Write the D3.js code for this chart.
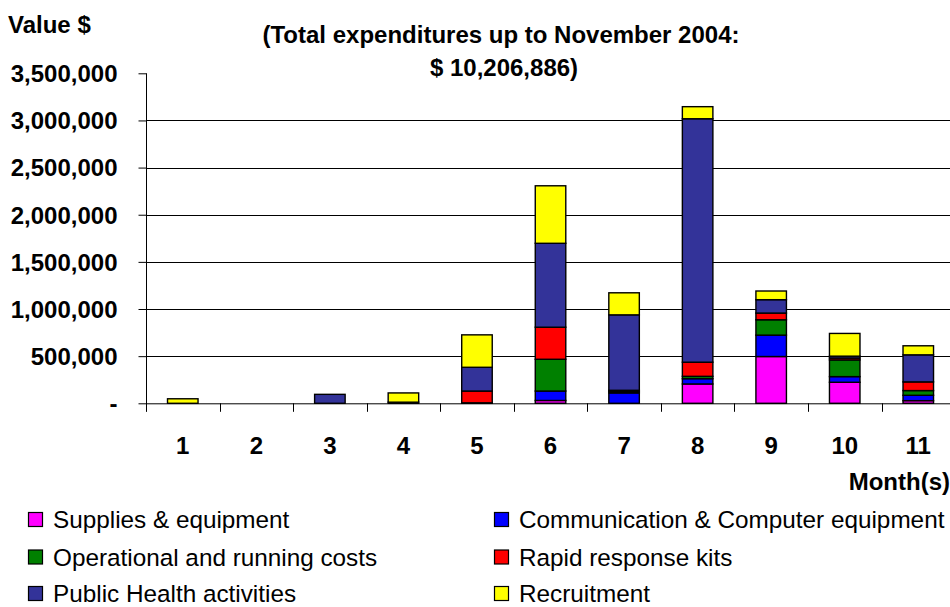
<!DOCTYPE html>
<html>
<head>
<meta charset="utf-8">
<script src="https://cdn.jsdelivr.net/npm/d3@7"></script>
<style>
  html, body { margin: 0; padding: 0; background: #fff; }
  svg { display: block; }
  text { font-family: "Liberation Sans", Arial, sans-serif; fill: #000; }
</style>
</head>
<body>
<svg id="chart" width="950" height="607"></svg>
<script>
// ---- Data ----
const months = ["1", "2", "3", "4", "5", "6", "7", "8", "9", "10", "11"];
const seriesNames = [
  "Supplies & equipment",
  "Communication & Computer equipment",
  "Operational and running costs",
  "Rapid response kits",
  "Public Health activities",
  "Recruitment"
];
const supplies      = [0, 0, 0, 0, 0, 30000, 0, 205000, 496000, 223000, 28000];
const communication = [0, 0, 0, 0, 0, 100000, 110000, 56000, 227000, 60000, 57000];
const operational   = [0, 0, 0, 0, 5000, 337000, 14000, 25000, 163000, 177000, 50000];
const rapidKits     = [0, 0, 0, 0, 125000, 340000, 14000, 150000, 71000, 20000, 92000];
const publicHealth  = [0, 0, 95000, 12000, 252000, 890000, 800000, 2582000, 142000, 20000, 287000];
const recruitment   = [48000, 0, 0, 98000, 344000, 610000, 234000, 128000, 92000, 241000, 96000];
const yTicks = [0, 500000, 1000000, 1500000, 2000000, 2500000, 3000000, 3500000];
const colors = ["#FF00FF", "#0000FF", "#008000", "#FF0000", "#333399", "#FFFF00"];

const seriesValues = [supplies, communication, operational, rapidKits, publicHealth, recruitment];
const table = months.map((m, i) => {
  const row = { month: m };
  seriesNames.forEach((s, j) => { row[s] = seriesValues[j][i]; });
  return row;
});

// ---- Layout ----
const svg = d3.select("#chart");
const plotLeft = 146, plotRight = 955.05, plotTop = 73.3, plotBottom = 403.3;
const FS = 24;
const LFS = 24.3;

const x = d3.scaleBand().domain(months).range([plotLeft, plotRight]).padding(0);
const y = d3.scaleLinear().domain([0, 3500000]).range([plotBottom, plotTop]);
const barW = x.bandwidth() * 0.415;

// gridlines
svg.append("g").selectAll("line")
  .data(yTicks.filter(v => v > 0 && v < 3500000))
  .join("line")
  .attr("x1", plotLeft).attr("x2", 950)
  .attr("y1", d => Math.round(y(d)) + 0.5).attr("y2", d => Math.round(y(d)) + 0.5)
  .attr("stroke", "#000").attr("stroke-width", 1);

// stacked bars
const stack = d3.stack().keys(seriesNames);
const stacked = stack(table);
svg.append("g").selectAll("g")
  .data(stacked)
  .join("g")
  .attr("fill", (d, i) => colors[i])
  .selectAll("rect")
  .data(d => d.filter(p => p[1] - p[0] > 0))
  .join("rect")
  .attr("x", d => x(d.data.month) + (x.bandwidth() - barW) / 2)
  .attr("width", barW)
  .attr("y", d => y(d[1]))
  .attr("height", d => y(d[0]) - y(d[1]))
  .attr("stroke", "#000")
  .attr("stroke-width", 1.4);

// y axis
const yAxis = d3.axisLeft(y).tickValues(yTicks)
  .tickFormat(d => d === 0 ? "-" : d3.format(",")(d))
  .tickSize(8).tickPadding(21);
const yg = svg.append("g").attr("transform", `translate(${plotLeft + 0.5},0)`).call(yAxis);
yg.select(".domain").remove();
yg.append("line").attr("x1", 0).attr("x2", 0)
  .attr("y1", plotTop).attr("y2", plotBottom + 8)
  .attr("stroke", "#000").attr("stroke-width", 1);
yg.selectAll(".tick line").attr("stroke", "#000");
yg.selectAll(".tick text")
  .style("font-size", FS + "px").style("font-weight", "bold")
  .attr("dy", "0.35em");

// x axis
const xAxis = d3.axisBottom(x).tickSize(0).tickPadding(33);
const xg = svg.append("g").attr("transform", `translate(0,${plotBottom})`).call(xAxis);
xg.select(".domain").remove();
xg.append("line").attr("x1", plotLeft).attr("x2", 950)
  .attr("y1", 0.5).attr("y2", 0.5).attr("stroke", "#000");
xg.selectAll(".tick text")
  .style("font-size", FS + "px").style("font-weight", "bold")
  .attr("dy", "0.35em").attr("y", 42);
// category separators (tick marks between bands)
xg.append("g").selectAll("line")
  .data(months)
  .join("line")
  .attr("x1", d => Math.round(x(d)) + 0.5).attr("x2", d => Math.round(x(d)) + 0.5)
  .attr("y1", 0).attr("y2", 8.5)
  .attr("stroke", "#000");

// titles
svg.append("text").attr("x", 8).attr("y", 25).attr("dy", "0.35em")
  .style("font-size", FS + "px").style("font-weight", "bold").text("Value $");
svg.append("text").attr("x", 501).attr("y", 35).attr("dy", "0.35em")
  .attr("text-anchor", "middle")
  .style("font-size", FS + "px").style("font-weight", "bold")
  .text("(Total expenditures up to November 2004:");
svg.append("text").attr("x", 504).attr("y", 68).attr("dy", "0.35em")
  .attr("text-anchor", "middle")
  .style("font-size", FS + "px").style("font-weight", "bold")
  .text("$ 10,206,886)");
svg.append("text").attr("x", 950).attr("y", 482).attr("dy", "0.35em")
  .attr("text-anchor", "end")
  .style("font-size", FS + "px").style("font-weight", "bold")
  .text("Month(s)");

// legend
const legendPos = [
  [28.5, 519.5], [494.5, 519.5],
  [28.5, 557], [494.5, 557],
  [28.5, 593.5], [494.5, 593.5]
];
const lg = svg.append("g").selectAll("g")
  .data(seriesNames)
  .join("g")
  .attr("transform", (d, i) => `translate(${legendPos[i][0]},${legendPos[i][1]})`);
lg.append("rect").attr("x", 0).attr("y", -7).attr("width", 14).attr("height", 14)
  .attr("fill", (d, i) => colors[i]).attr("stroke", "#000").attr("stroke-width", 1.2);
lg.append("text").attr("x", 24.5).attr("y", 0).attr("dy", "0.35em")
  .style("font-size", LFS + "px").text(d => d);
</script>
</body>
</html>
